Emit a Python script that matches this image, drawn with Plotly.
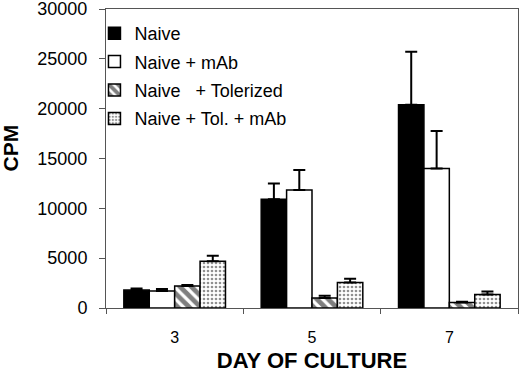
import plotly.graph_objects as go

days = ["3", "5", "7"]
naive = [1800, 10900, 20400]
naive_err = [150, 1600, 5300]
naive_mab = [1700, 11850, 14000]
naive_mab_err = [200, 2000, 3750]
naive_tol = [2200, 1000, 560]
naive_tol_err = [120, 230, 60]
naive_tol_mab = [4700, 2550, 1350]
naive_tol_mab_err = [550, 380, 300]
y_ticks = [0, 5000, 10000, 15000, 20000, 25000, 30000]
y_tick_labels = ["0", "5000", "10000", "15000", "20000", "25000", "30000"]

FONT = "Liberation Sans, Arial, Helvetica, sans-serif"

def bar(name, vals, errs, group, fill, pattern=None):
    marker = dict(color=fill, line=dict(color="black", width=1.5))
    if pattern is not None:
        marker["pattern"] = pattern
    return go.Bar(
        x=days, y=vals, name=name, legendgroup=group,
        marker=marker,
        error_y=dict(type="data", symmetric=False, array=errs,
                     arrayminus=[0] * len(errs), color="black",
                     thickness=2, width=6),
    )

fig = go.Figure()
fig.add_trace(bar("Naive", naive, naive_err, "a", "black"))
fig.add_trace(bar("Naive + mAb", naive_mab, naive_mab_err, "b", "white"))
fig.add_trace(bar("Naive   + Tolerized", naive_tol, naive_tol_err, "c", "white",
                  dict(shape="\\", fgcolor="black", bgcolor="white", size=8, solidity=0.6)))
fig.add_trace(bar("Naive + Tol. + mAb", naive_tol_mab, naive_tol_mab_err, "d", "white",
                  dict(shape=".", fgcolor="#222", bgcolor="white", size=4, solidity=0.35)))

fig.update_layout(
    width=520, height=379,
    margin=dict(l=106, r=2, t=9, b=71),
    paper_bgcolor="white", plot_bgcolor="white",
    barmode="group", bargap=0.26, bargroupgap=0,
    font=dict(family=FONT, color="black", size=16),
    showlegend=True,
    legend=dict(x=-0.028, y=0.98, xanchor="left", yanchor="top",
                bgcolor="rgba(0,0,0,0)", font=dict(size=18, family=FONT),
                tracegroupgap=2, traceorder="grouped"),
    xaxis=dict(
        automargin=False,
        showline=True, linecolor="#555", linewidth=1, mirror=True,
        ticks="outside", tickson="boundaries", ticklen=5, tickcolor="#555",
        ticklabelstandoff=15, tickfont=dict(size=16),
        title=dict(text="<b>DAY OF CULTURE</b>", font=dict(size=22), standoff=7),
        showgrid=False,
    ),
    yaxis=dict(
        automargin=False, ticklabeloverflow="allow",
        range=[0, 30000], tickmode="array", tickvals=y_ticks, ticktext=y_tick_labels,
        showline=True, linecolor="#555", linewidth=1, mirror=True,
        ticks="outside", ticklen=6, tickcolor="#555",
        ticklabelstandoff=8, tickfont=dict(size=18),
        showgrid=False, zeroline=False,
    ),
    annotations=[dict(text="<b>CPM</b>", textangle=-90, xref="paper", yref="paper",
                      x=-0.232, y=0.535, xanchor="center", yanchor="middle",
                      showarrow=False, font=dict(size=21))],
)

fig.write_html("out.html", config={"displayModeBar": False},
               post_script="document.body.style.margin='0';")
